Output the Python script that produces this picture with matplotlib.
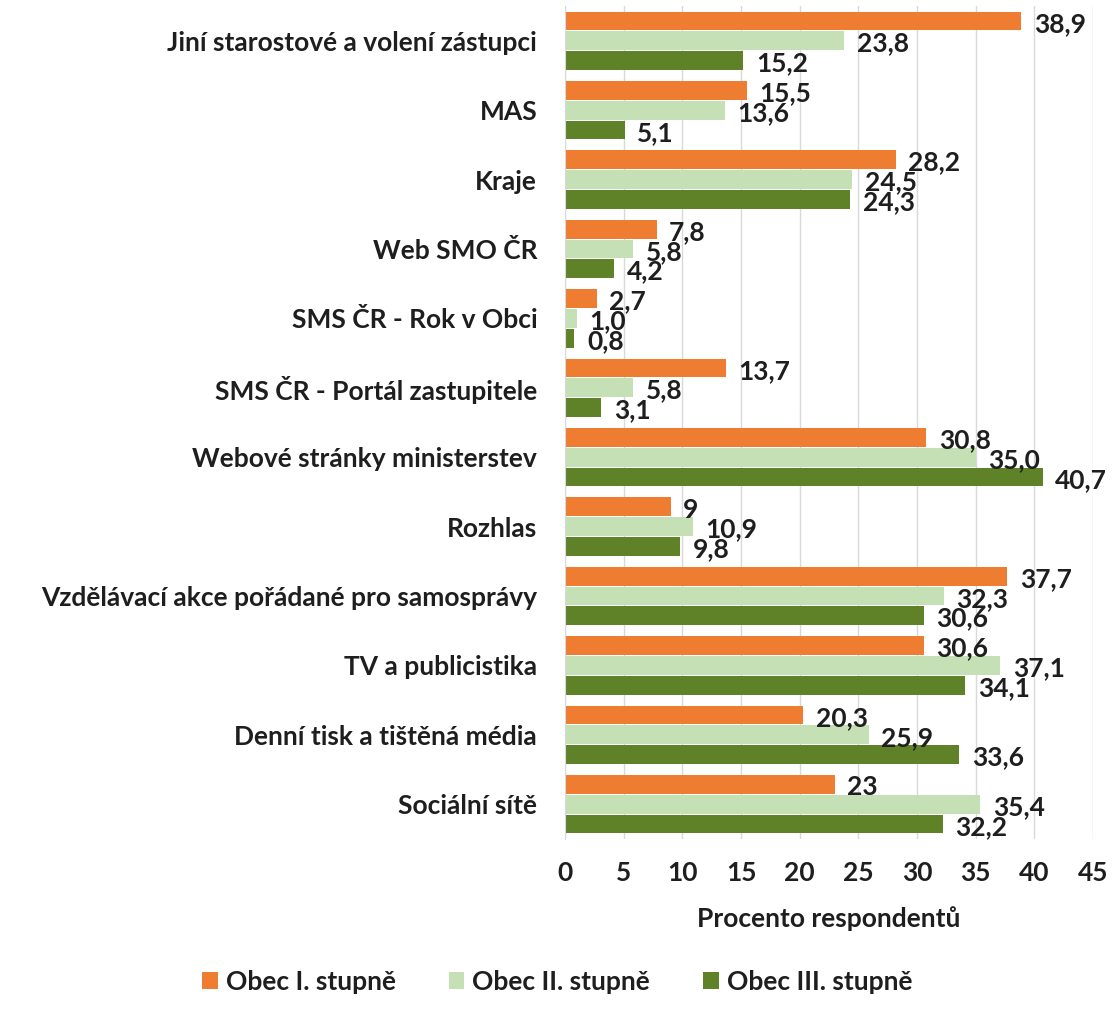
import matplotlib
matplotlib.use("Agg")
import matplotlib.pyplot as plt
import numpy as np

categories = [
    "Jiní starostové a volení zástupci",
    "MAS",
    "Kraje",
    "Web SMO ČR",
    "SMS ČR - Rok v Obci",
    "SMS ČR - Portál zastupitele",
    "Webové stránky ministerstev",
    "Rozhlas",
    "Vzdělávací akce pořádané pro samosprávy",
    "TV a publicistika",
    "Denní tisk a tištěná média",
    "Sociální sítě",
]
obec_I = [38.9, 15.5, 28.2, 7.8, 2.7, 13.7, 30.8, 9, 37.7, 30.6, 20.3, 23]
obec_II = [23.8, 13.6, 24.5, 5.8, 1.0, 5.8, 35.0, 10.9, 32.3, 37.1, 25.9, 35.4]
obec_III = [15.2, 5.1, 24.3, 4.2, 0.8, 3.1, 40.7, 9.8, 30.6, 34.1, 33.6, 32.2]
series_names = ["Obec I. stupně", "Obec II. stupně", "Obec III. stupně"]
xticks = [0, 5, 10, 15, 20, 25, 30, 35, 40, 45]
xlabel = "Procento respondentů"

colors = ["#EE7D31", "#C5E0B4", "#5F8229"]
FONT = ["Lato", "DejaVu Sans"]
TXT = "#1e1e1e"
FS = 19

plt.rcParams["font.family"] = FONT

fig = plt.figure(figsize=(11.14, 10.09), dpi=100)
ax = fig.add_axes([565 / 1114, 1 - 839 / 1009, (1093 - 565) / 1114, (839 - 6) / 1009])

n = len(categories)
y = np.arange(n)
h = 0.285
offs = [-h, 0, h]
all_series = [obec_I, obec_II, obec_III]

def fmt_general(v):
    if float(v).is_integer():
        return f"{int(v)}"
    return f"{v:.1f}".replace(".", ",")

def fmt_fixed(v):
    return f"{v:.1f}".replace(".", ",")

formatters = [fmt_general, fmt_fixed, fmt_fixed]

for s, (vals, off, c, name, f) in enumerate(zip(all_series, offs, colors, series_names, formatters)):
    ax.barh(y + off, vals, height=h * 0.95, color=c, label=name, zorder=3)
    for yy, v in zip(y + off, vals):
        ax.annotate(f(v), xy=(v, yy), xytext=(9, -2), textcoords="offset points",
                    ha="left", va="center", fontsize=FS, fontweight="bold", color=TXT,
                    zorder=4)

ax.set_ylim(n - 0.5, -0.5)
ax.set_xlim(0, 45)
ax.set_xticks(xticks)
ax.set_xticklabels([str(t) for t in xticks], fontsize=FS, fontweight="bold", color=TXT)
ax.set_yticks(y)
ax.set_yticklabels(categories, fontsize=FS, fontweight="bold", color=TXT)
ax.tick_params(axis="both", length=0)
ax.tick_params(axis="x", pad=16)
ax.tick_params(axis="y", pad=20)
ax.grid(axis="x", color="#D9D9D9", linewidth=1, zorder=0)
for sp in ["top", "right", "bottom"]:
    ax.spines[sp].set_visible(False)
ax.spines["left"].set_color("#D9D9D9")
ax.spines["left"].set_zorder(5)

ax.set_xlabel(xlabel, fontsize=FS, fontweight="bold", color=TXT, labelpad=15)

handles, labels = ax.get_legend_handles_labels()
fig.legend(handles, labels, loc="center", bbox_to_anchor=(0.5, 1 - 982 / 1009), ncol=3,
           frameon=False, prop={"size": FS, "weight": "bold"}, handlelength=0.6,
           handleheight=0.6, handletextpad=0.3, columnspacing=2.0, labelcolor=TXT)

fig.savefig("out.png", dpi=100, facecolor="white")
